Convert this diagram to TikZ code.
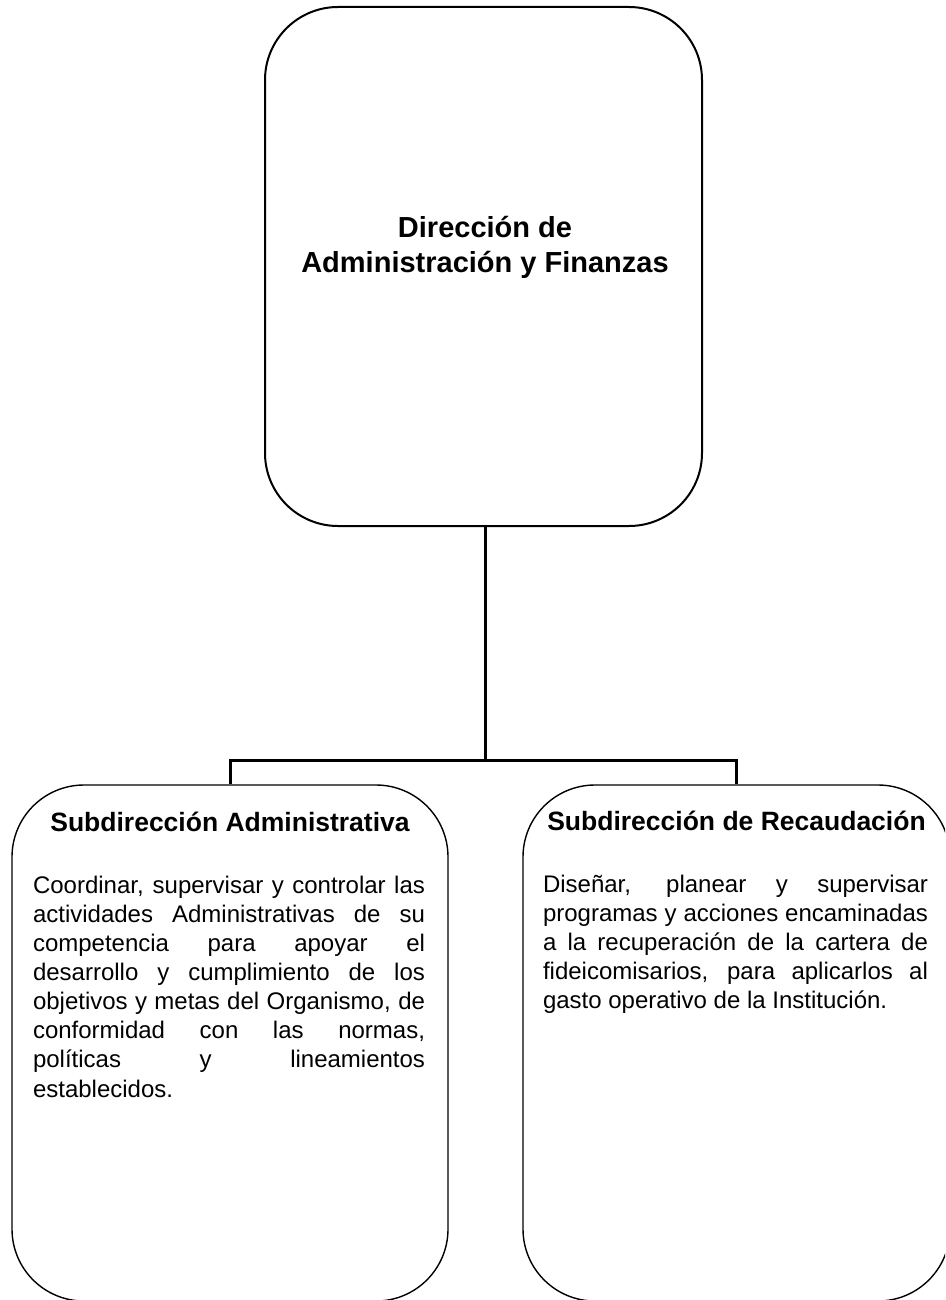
\documentclass[tikz,border=0pt]{standalone}
\usepackage{fontspec}
\setmainfont{Liberation Sans}
\begin{document}
\begin{tikzpicture}[x=1pt,y=-1pt,
  boxbig/.style={draw=black,line width=2pt,rounded corners=73pt,rectangle,inner sep=0pt},
  boxsmall/.style={draw=black,line width=1.4pt,rounded corners=72pt,rectangle,inner sep=0pt},
  conn/.style={draw=black,line width=3pt,line join=miter},
  txt/.style={inner sep=0pt,outer sep=0pt}]
\useasboundingbox (0,0) rectangle (945,1300);
\clip (0,0) rectangle (945,1300);

% boxes
\node[boxbig,minimum width=437pt,minimum height=519pt] (top) at (483.5,266.5) {};
\node[boxsmall,minimum width=436pt,minimum height=516pt] (L) at (230,1043) {};
\node[boxsmall,minimum width=427pt,minimum height=516pt] (R) at (736.5,1043) {};

% connectors
\coordinate (bus) at (485,760);
\draw[conn] (top.south -| bus) -- (bus);
\draw[conn] (L.north) |- (bus) -| (R.north);

% texts
\node[txt,anchor=base] (ttl) at (485,237)
  {\parbox[t]{420pt}{\centering\fontsize{29}{35}\selectfont\bfseries Dirección de\\Administración y Finanzas}};

\node[txt,anchor=base] (lt) at (230,831)
  {\fontsize{26.5}{30}\selectfont\bfseries Subdirección Administrativa};
\node[txt,anchor=base] (rt) at (736.5,830)
  {\fontsize{26.5}{30}\selectfont\bfseries Subdirección de Recaudación};

\node[txt,anchor=base west] (lb) at (33,893)
  {\parbox[t]{392pt}{\fontsize{24}{29.15}\selectfont
   \makebox[392pt][s]{Coordinar, supervisar y controlar las}\\
   \makebox[392pt][s]{actividades Administrativas de su}\\
   \makebox[392pt][s]{competencia para apoyar el}\\
   \makebox[392pt][s]{desarrollo y cumplimiento de los}\\
   \makebox[392pt][s]{objetivos y metas del Organismo, de}\\
   \makebox[392pt][s]{conformidad con las normas,}\\
   \makebox[392pt][s]{políticas y lineamientos}\\
   \makebox[392pt][l]{establecidos.}}};

\node[txt,anchor=base west] (rb) at (543,892)
  {\parbox[t]{385pt}{\fontsize{24}{29.15}\selectfont
   \makebox[385pt][s]{Diseñar, planear y supervisar}\\
   \makebox[385pt][s]{programas y acciones encaminadas}\\
   \makebox[385pt][s]{a la recuperación de la cartera de}\\
   \makebox[385pt][s]{fideicomisarios, para aplicarlos al}\\
   \makebox[385pt][l]{gasto operativo de la Institución.}}};
\end{tikzpicture}
\end{document}
